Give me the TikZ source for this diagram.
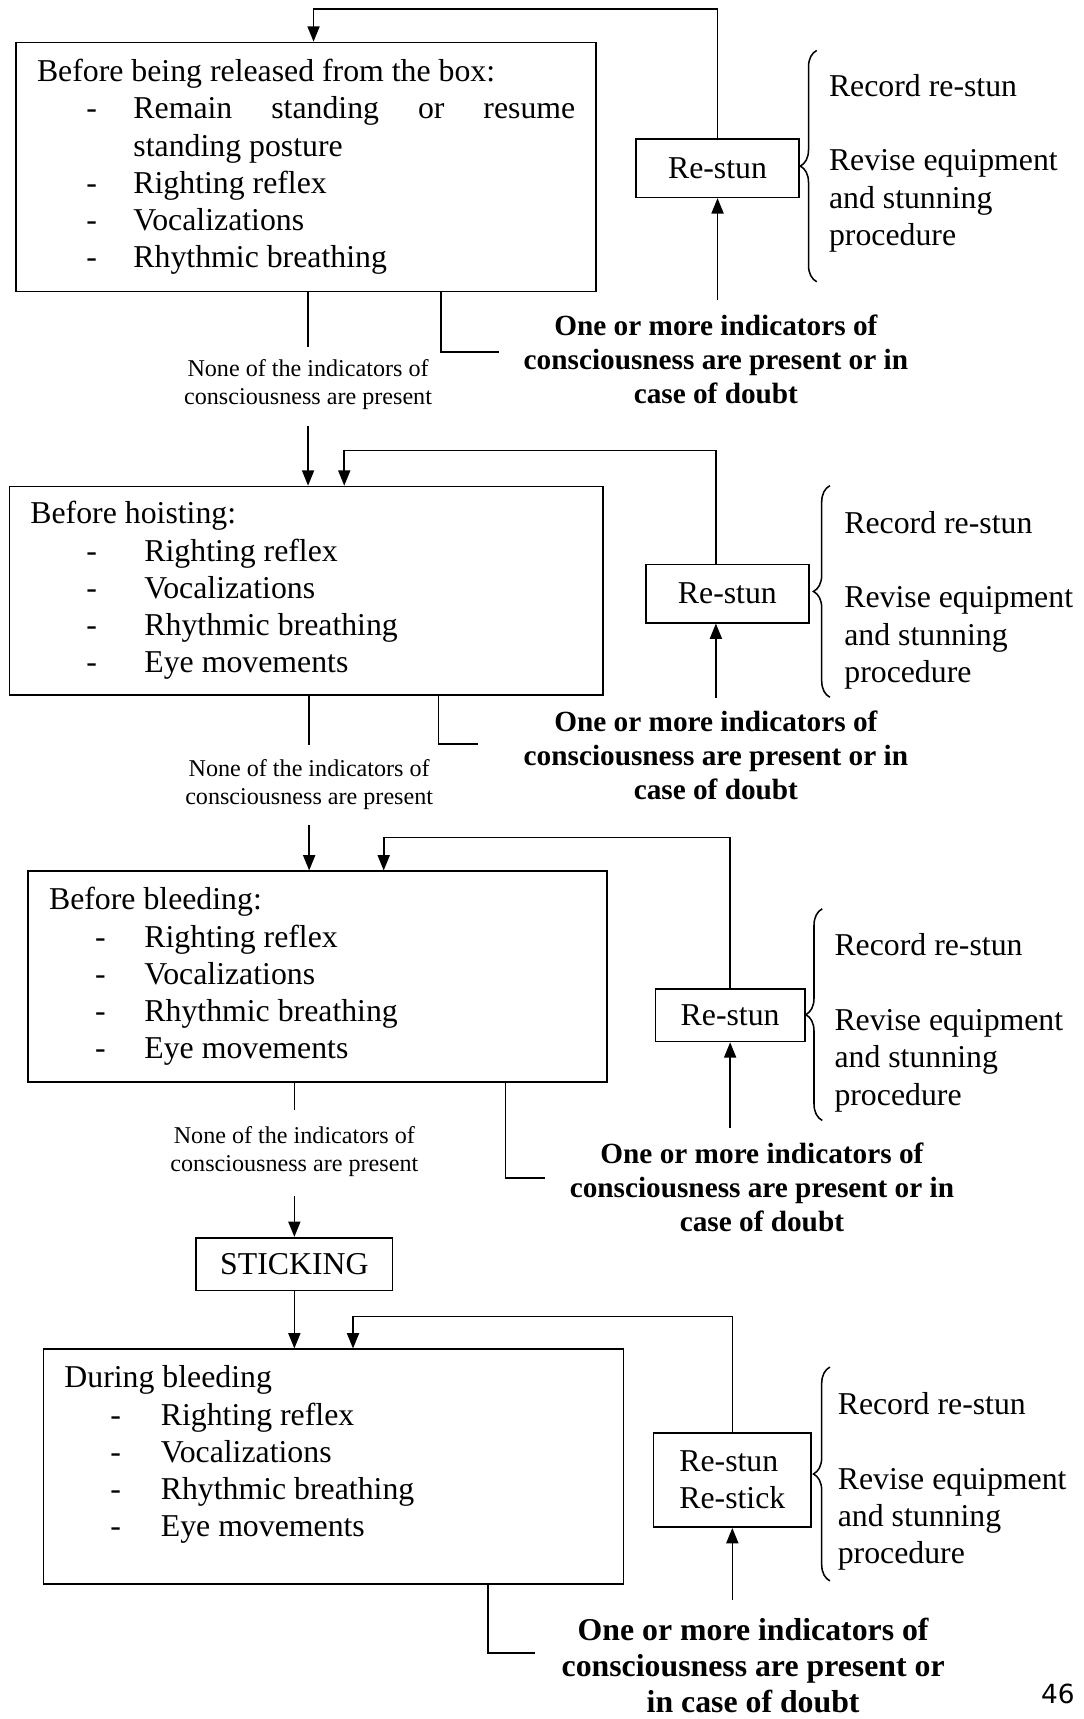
\documentclass[tikz,border=0pt]{standalone}
\usepackage{fontspec}
\setmainfont{Liberation Serif}
\newfontfamily\pagenumfont{DejaVu Sans}
\usepackage{tikz}
\usetikzlibrary{arrows.meta}
\usetikzlibrary{decorations.pathreplacing}

% one indicator: dash, then its text
\newcommand{\indic}[3]{\makebox[#2][l]{\hspace*{#1}-}#3}

\begin{document}
\begin{tikzpicture}[x=1pt,y=1pt]
	\tikzset{stage/.style = {shape=rectangle,draw,line width=1.5pt,anchor=north west,align=left,inner xsep=19pt,inner ysep=0pt,font=\fontsize{29}{34}\selectfont,execute at begin node={\spaceskip=0pt\xspaceskip=0pt}}}
	\tikzset{action/.style = {shape=rectangle,draw,line width=1.5pt,inner sep=0pt,font=\fontsize{29}{34}\selectfont}}
	\tikzset{note/.style = {anchor=west,align=left,inner sep=0pt,font=\fontsize{29}{34}\selectfont}}
	\tikzset{doubt/.style = {align=center,inner sep=0pt,font=\bfseries\fontsize{26.7}{31}\selectfont}}
	\tikzset{none/.style = {align=center,inner sep=0pt,font=\fontsize{22}{26}\selectfont}}
	\tikzset{edge/.style = {line width=1.5pt}}
	\tikzset{flow/.style = {edge,-{Triangle[length=14pt,width=11pt]}}}
	\tikzset{brace/.style = {decorate,decoration={brace,amplitude=15pt},line width=1.4pt}}
	\useasboundingbox (0,0) rectangle (988,-1568);
	% stages
	\node[stage,text width=491pt,minimum height=227pt] (box1) at (14,-38) {Before being released from the box:\\
		\indic{45pt}{88pt}{\makebox[403pt][s]{Remain standing or resume}}\\
		\hspace*{88pt}standing posture\\
		\indic{45pt}{88pt}{Righting reflex}\\
		\indic{45pt}{88pt}{Vocalizations}\\
		\indic{45pt}{88pt}{Rhythmic breathing}};
	\node[stage,text width=503pt,minimum height=190pt] (box2) at (8,-443) {Before hoisting:\\
		\indic{51pt}{104pt}{Righting reflex}\\
		\indic{51pt}{104pt}{Vocalizations}\\
		\indic{51pt}{104pt}{Rhythmic breathing}\\
		\indic{51pt}{104pt}{Eye movements}};
	\node[stage,text width=490pt,minimum height=192pt] (box3) at (25,-794) {Before bleeding:\\
		\indic{42pt}{87pt}{Righting reflex}\\
		\indic{42pt}{87pt}{Vocalizations}\\
		\indic{42pt}{87pt}{Rhythmic breathing}\\
		\indic{42pt}{87pt}{Eye movements}};
	\node[action,minimum width=179pt,minimum height=48pt] (sticking) at (268.5,-1153) {STICKING};
	\node[stage,text width=491pt,minimum height=214pt] (box4) at (39,-1230) {During bleeding\\
		\indic{42pt}{88pt}{Righting reflex}\\
		\indic{42pt}{88pt}{Vocalizations}\\
		\indic{42pt}{88pt}{Rhythmic breathing}\\
		\indic{42pt}{88pt}{Eye movements}\\[-6pt]\mbox{}};
	% re-stun boxes
	\node[action,minimum width=149pt,minimum height=53pt] (restun1) at (654.5,-153.5) {Re-stun};
	\node[action,minimum width=149pt,minimum height=53pt] (restun2) at (663.5,-541.5) {Re-stun};
	\node[action,minimum width=136pt,minimum height=48pt] (restun3) at (666,-926) {Re-stun};
	\node[action,minimum width=144pt,minimum height=86pt,align=left] (restun4) at (668,-1350) {Re-stun\\Re-stick};
	% notes
	\node[note] (note1) at (756,-149) {Record re-stun\\[34pt]Revise equipment\\and stunning\\procedure};
	\node[note] (note2) at (770,-547.5) {Record re-stun\\[34pt]Revise equipment\\and stunning\\procedure};
	\node[note] (note3) at (761,-933) {Record re-stun\\[34pt]Revise equipment\\and stunning\\procedure};
	\node[note] (note4) at (764,-1351.5) {Record re-stun\\[34pt]Revise equipment\\and stunning\\procedure};
	\draw[brace] (745,-257) -- (745,-46);
	\draw[brace] (757,-636) -- (757,-443);
	\draw[brace] (750,-1022) -- (750,-829);
	\draw[brace] (757,-1442) -- (757,-1247);
	% conditions
	\node[none] (none1) at (281,-351) {None of the indicators of\\consciousness are present};
	\node[none] (none2) at (282,-715.5) {None of the indicators of\\consciousness are present};
	\node[none] (none3) at (268.5,-1050.5) {None of the indicators of\\consciousness are present};
	\node[doubt] (doubt1) at (653,-328) {One or more indicators of\\consciousness are present or in\\case of doubt};
	\node[doubt] (doubt2) at (653,-689) {One or more indicators of\\consciousness are present or in\\case of doubt};
	\node[doubt] (doubt3) at (695,-1083) {One or more indicators of\\consciousness are present or in\\case of doubt};
	\node[doubt,font=\bfseries\fontsize{29}{33}\selectfont] (doubt4) at (687,-1519) {One or more indicators of\\consciousness are present or\\in case of doubt};
	\node[font=\pagenumfont\fontsize{24}{28}\selectfont] (page) at (965,-1545) {46};
	% edges
	\draw[edge] (none1.north |- box1.south) -- ([yshift=11pt]none1.north);
	\draw[flow] ([yshift=-14pt]none1.south) -- (none1.south |- box2.north);
	\draw[edge] (none2.north |- box2.south) -- ([yshift=13pt]none2.north);
	\draw[flow] ([yshift=-14pt]none2.south) -- (none2.south |- box3.north);
	\draw[edge] (none3.north |- box3.south) -- ([yshift=15pt]none3.north);
	\draw[flow] ([yshift=-17pt]none3.south) -- (sticking.north);
	\draw[flow] (sticking.south) -- (sticking.south |- box4.north);
	\draw[edge] ([xshift=388pt]box1.south west) |- ([xshift=-22.5pt,yshift=7pt]doubt1.west);
	\draw[edge] ([xshift=392pt]box2.south west) |- ([xshift=-41.5pt,yshift=10.3pt]doubt2.west);
	\draw[edge] ([xshift=436pt]box3.south west) |- ([xshift=-22.5pt,yshift=8.3pt]doubt3.west);
	\draw[edge] ([xshift=406pt]box4.south west) |- ([xshift=-24pt,yshift=11pt]doubt4.west);
	\draw[flow,shorten <=14pt] (restun1.south |- doubt1.north) -- (restun1.south);
	\draw[flow,shorten <=12pt] ([xshift=-10.5pt]restun2.south |- doubt2.north) -- ([xshift=-10.5pt]restun2.south);
	\draw[flow,shorten <=13pt] (restun3.south |- doubt3.north) -- (restun3.south);
	\draw[flow,shorten <=16pt] (restun4.south |- doubt4.north) -- (restun4.south);
	% loops back
	\coordinate (loop1) at (286,-8);
	\coordinate (loop2) at (314,-411);
	\coordinate (loop3) at (350,-764);
	\coordinate (loop4) at (322,-1201);
	\draw[flow] (restun1.north) |- (loop1) -- (loop1 |- box1.north);
	\draw[flow] ([xshift=-10.5pt]restun2.north) |- (loop2) -- (loop2 |- box2.north);
	\draw[flow] (restun3.north) |- (loop3) -- (loop3 |- box3.north);
	\draw[flow] (restun4.north) |- (loop4) -- (loop4 |- box4.north);
\end{tikzpicture}
\end{document}
